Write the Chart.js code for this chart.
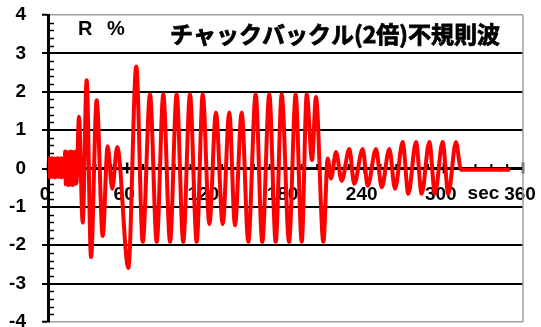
<!DOCTYPE html>
<html>
<head>
<meta charset="utf-8">
<script src="https://cdn.jsdelivr.net/npm/chart.js@4.4.0/dist/chart.umd.min.js"></script>
<style>
  html, body { margin: 0; padding: 0; background: #fff; overflow: hidden; }
  #wrap { width: 541px; height: 327px; }
</style>
</head>
<body>
<div id="wrap"><canvas id="wave" width="541" height="327"></canvas></div>
<script>
// ============ DATA ============
const chartTitle = 'チャックバックル(2倍)不規則波';
const xTickValues = [0, 60, 120, 180, 240, 300, 360];
const yTickValues = [-4, -3, -2, -1, 0, 1, 2, 3, 4];

// start-up ripple, sampled every 0.5 s
const rippleTimes = [
    0, 0.5, 1, 1.5, 2, 2.5, 3, 3.5, 4, 4.5, 5, 5.5, 6, 6.5, 7, 7.5, 8, 8.5, 9, 9.5, 10, 10.5, 11, 11.5, 12, 12.5,
    13, 13.5, 14, 14.5, 15, 15.5, 16, 16.5, 17, 17.5, 18, 18.5, 19, 19.5, 20, 20.5, 21, 21.5
];
const rippleValues = [
    0.26, -0.2, 0.27, -0.23, 0.24, -0.18, 0.27, -0.22, 0.25, -0.2, 0.26, -0.23, 0.23, -0.18, 0.27, -0.21, 0.26, -0.22, 0.24, -0.19, 0.27, -0.23, 0.25, -0.2, 0.26, -0.18,
    0.44, -0.41, 0.43, -0.39, 0.42, -0.43, 0.41, -0.39, 0.44, -0.42, 0.4, -0.43, 0.43, -0.41, 0.42, -0.4, 0.44, -0.39
];

// wave peaks and troughs (sec, R %)
const waveTimes = [
    23.5, 26.3, 29.3, 32.6, 36.9, 41.5, 45.2, 48.7, 52.5, 60.9,
    66.9, 71.8, 77.3, 82.4, 87.4, 92.5, 97.5, 102.5, 107.6, 112.7,
    117.3, 122.3, 127.3, 132.4, 137.4, 141.7, 146.8, 151.8, 157.4, 162.4,
    167.7, 172.6, 177.1, 182.7, 187.7, 192.3, 196.1, 200.1, 203.1, 208.7,
    212.0, 214.5, 218.3, 222.6, 228.4, 232.1, 238.5, 242.3, 248.6, 252.9,
    258.7, 263.0, 268.8, 273.1, 278.9, 283.2, 289.0, 293.3, 299.1, 303.4,
    309.2, 313.0, 350.2
];
const waveValues = [
    1.35, -1.41, 2.30, -2.31, 1.78, -1.76, 0.58, -0.53, 0.56, -2.59,
    2.66, -1.91, 1.93, -1.91, 1.93, -1.91, 1.93, -1.91, 1.93, -1.91,
    1.93, -1.45, 1.46, -1.45, 1.46, -1.48, 1.46, -1.91, 1.93, -1.91,
    1.93, -1.91, 1.93, -1.91, 1.93, -1.91, 1.93, 0.22, 1.86, -1.91,
    0.26, -0.26, 0.43, -0.32, 0.51, -0.4, 0.51, -0.45, 0.51, -0.49,
    0.51, -0.53, 0.69, -0.66, 0.69, -0.66, 0.69, -0.66, 0.69, -0.66,
    0.69, -0.03, -0.03
];

const wavePoints = rippleTimes.map((t, i) => ({ x: t, y: rippleValues[i] }))
    .concat(waveTimes.map((t, i) => ({ x: t, y: waveValues[i] })));

// ============ AXIS MARKS & TEXT ============
const axisMarks = {
    id: 'axisMarks',
    beforeDatasetsDraw(chart) {
        const { ctx, chartArea: a, scales: { x, y } } = chart;
        ctx.save();
        ctx.strokeStyle = '#000';

        // minor ticks on the value axis, every 0.2
        ctx.lineWidth = 1.5;
        for (let i = -20; i <= 20; i++) {
            if (i % 5 === 0) continue;
            const py = Math.round(y.getPixelForValue(i / 5)) + 0.5;
            ctx.beginPath();
            ctx.moveTo(a.left, py);
            ctx.lineTo(a.left + 6, py);
            ctx.stroke();
        }

        // time ticks along the zero line, every 12 s
        const y0 = y.getPixelForValue(0);
        for (let s = 0; s <= 360; s += 12) {
            const px = x.getPixelForValue(s);
            const major = s % 60 === 0;
            ctx.lineWidth = major ? 2.5 : 2;
            ctx.beginPath();
            ctx.moveTo(px, y0 - (major ? 6 : 4.5));
            ctx.lineTo(px, y0 + (major ? 5 : 0));
            ctx.stroke();
        }

        // right frame
        ctx.strokeStyle = '#a0a0a0';
        ctx.lineWidth = 1.5;
        ctx.beginPath();
        ctx.moveTo(a.right, a.top);
        ctx.lineTo(a.right, a.bottom);
        ctx.stroke();
        ctx.restore();
    },
    afterDraw(chart) {
        const { ctx, scales: { x, y } } = chart;
        ctx.save();
        ctx.fillStyle = '#000';
        ctx.strokeStyle = '#000';
        ctx.textBaseline = 'middle';

        ctx.font = 'bold 20px "Liberation Sans"';
        ctx.textAlign = 'left';
        ctx.fillText('R', 78, 29);
        ctx.fillText('%', 107, 29);

        // heavy gothic title
        ctx.font = 'bold 23px "Noto Sans CJK JP"';
        ctx.lineWidth = 0.8;
        ctx.fillText(chartTitle, 170, 34);
        ctx.strokeText(chartTitle, 170, 34);

        ctx.font = 'bold 19px "Liberation Sans"';
        ctx.textAlign = 'center';
        ctx.fillText('sec', x.getPixelForValue(330), y.getPixelForValue(0) + 25);
        ctx.restore();
    }
};

// ============ CHART ============
Chart.defaults.font.family = '"Liberation Sans", Arial, sans-serif';
Chart.defaults.color = '#000';

new Chart(document.getElementById('wave').getContext('2d'), {
    type: 'line',
    data: {
        datasets: [{
            data: wavePoints,
            borderColor: '#ff0000',
            borderWidth: 4,
            pointRadius: 0,
            fill: false,
            cubicInterpolationMode: 'monotone'
        }]
    },
    options: {
        responsive: false,
        animation: false,
        devicePixelRatio: 1,
        layout: { padding: { top: 15, bottom: 5, left: 0, right: 18 } },
        plugins: {
            legend: { display: false },
            tooltip: { enabled: false }
        },
        scales: {
            x: {
                type: 'linear',
                min: 0,
                max: 360,
                position: { y: 0 },
                grid: { display: false, drawTicks: false },
                border: { color: '#000', width: 2.5 },
                ticks: {
                    padding: 15,
                    labelOffset: -3,
                    maxRotation: 0,
                    autoSkip: false,
                    font: { size: 19, weight: 'bold' }
                },
                afterBuildTicks: s => { s.ticks = xTickValues.map(v => ({ value: v })); },
                afterFit: s => { s.paddingLeft = 0; s.paddingRight = 0; }
            },
            y: {
                min: -4,
                max: 4,
                grid: {
                    color: c => Math.abs(c.tick.value) === 4 ? '#a0a0a0' : '#000',
                    lineWidth: c => Math.abs(c.tick.value) === 4 ? 1.5 : 2,
                    tickColor: '#000',
                    tickWidth: 2,
                    tickLength: 6
                },
                border: { color: '#000', width: 3 },
                ticks: {
                    padding: 16,
                    font: { size: 19, weight: 'bold' }
                },
                afterBuildTicks: s => { s.ticks = yTickValues.map(v => ({ value: v })); },
                afterFit: s => { s.width = 48; s.paddingTop = 0; s.paddingBottom = 0; }
            }
        }
    },
    plugins: [axisMarks]
});
</script>
</body>
</html>
